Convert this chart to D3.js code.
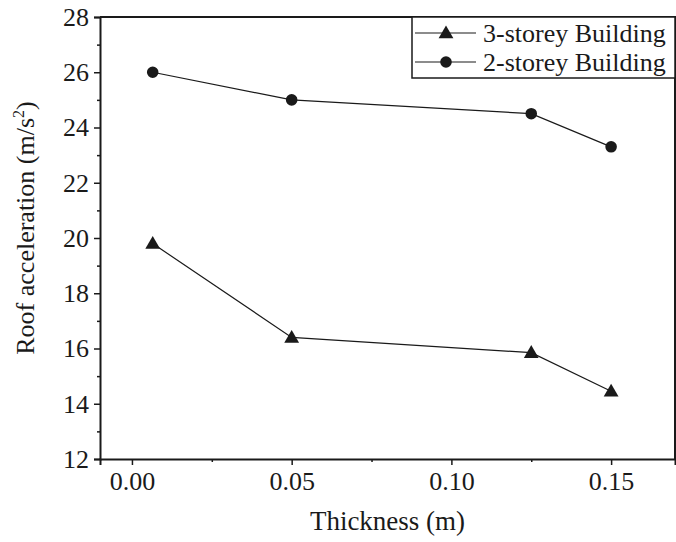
<!DOCTYPE html>
<html>
<head>
<meta charset="utf-8">
<script src="https://cdn.jsdelivr.net/npm/d3@7"></script>
<style>
	body { margin: 0; background: #fff; }
	svg text { font-family: "Liberation Serif", "Times New Roman", serif; fill: #1a1a1a; }
</style>
</head>
<body>
<svg id="chart"></svg>
<script>
// thickness values (m) and roof acceleration (m/s^2) for each building
const thickness = [0.0065, 0.05, 0.125, 0.15];
const threeStorey = [19.8, 16.4, 15.85, 14.45];
const twoStorey = [26.0, 25.0, 24.5, 23.3];
const seriesNames = ["3-storey Building", "2-storey Building"];
const xTicks = [0.0, 0.05, 0.1, 0.15];
const yTicks = [12, 14, 16, 18, 20, 22, 24, 26, 28];

const width = 676;
const height = 542;
const margin = { left: 100, right: 1, top: 17, bottom: 83 };

const svg = d3.select("#chart").attr("width", width).attr("height", height);

const x = d3
	.scaleLinear()
	.domain([-0.01, 0.17])
	.range([margin.left, width - margin.right]);
const y = d3
	.scaleLinear()
	.domain([12, 28])
	.range([height - margin.bottom, margin.top]);

const ink = "#1a1a1a";

//minor ticks sit between the labelled ones
const xMinor = [0.025, 0.075, 0.125];
const yMinor = d3.range(13, 28, 2);

svg
	.append("g")
	.attr("transform", `translate(0, ${y(12)})`)
	.call(d3.axisBottom(x).tickValues(xTicks).tickFormat(d3.format(".2f")).tickSize(6).tickPadding(7));
svg
	.append("g")
	.attr("transform", `translate(0, ${y(12)})`)
	.call(d3.axisBottom(x).tickValues(xMinor).tickFormat("").tickSize(3))
	.select(".domain")
	.remove();

svg
	.append("g")
	.attr("transform", `translate(${x(-0.01)}, 0)`)
	.call(d3.axisLeft(y).tickValues(yTicks).tickSize(6).tickPadding(5));
svg
	.append("g")
	.attr("transform", `translate(${x(-0.01)}, 0)`)
	.call(d3.axisLeft(y).tickValues(yMinor).tickFormat("").tickSize(3))
	.select(".domain")
	.remove();

svg.selectAll(".tick text").attr("font-size", 26).attr("fill", ink).attr("font-family", "Liberation Serif");
svg.selectAll(".tick line").attr("stroke", ink).attr("stroke-width", 1.5);
svg.selectAll(".domain").attr("stroke", ink).attr("stroke-width", 2);

//top and right frame
svg
	.append("path")
	.attr("d", `M${x(-0.01)},${y(28)}H${x(0.17)}V${y(12)}`)
	.attr("fill", "none")
	.attr("stroke", ink)
	.attr("stroke-width", 2);

const line = d3
	.line()
	.x((d) => x(d[0]))
	.y((d) => y(d[1]));

const tri = d3.symbol().type(d3.symbolTriangle).size(95);
const dot = d3.symbol().type(d3.symbolCircle).size(105);

const series = [
	{ name: seriesNames[0], values: threeStorey, symbol: tri },
	{ name: seriesNames[1], values: twoStorey, symbol: dot },
];

series.forEach((s) => {
	const pts = thickness.map((t, i) => [t, s.values[i]]);
	svg
		.append("path")
		.attr("d", line(pts))
		.attr("fill", "none")
		.attr("stroke", ink)
		.attr("stroke-width", 1.2);
	svg
		.selectAll(null)
		.data(pts)
		.enter()
		.append("path")
		.attr("d", s.symbol)
		.attr("transform", (d) => `translate(${x(d[0])}, ${y(d[1]) + (s.symbol === tri ? 1 : 0)})`)
		.attr("fill", ink);
});

//legend box in the top right corner
const legend = svg.append("g").attr("transform", `translate(412, ${margin.top})`);
legend
	.append("rect")
	.attr("width", width - margin.right - 412)
	.attr("height", 61)
	.attr("fill", "#fff")
	.attr("stroke", ink)
	.attr("stroke-width", 1.5);
series.forEach((s, i) => {
	const row = legend.append("g").attr("transform", `translate(0, ${16 + i * 29})`);
	row.append("line").attr("x1", 3).attr("x2", 64).attr("stroke", ink).attr("stroke-width", 1.2);
	row.append("path").attr("d", s.symbol).attr("transform", `translate(34, ${s.symbol === tri ? 1 : 0})`).attr("fill", ink);
	row
		.append("text")
		.attr("x", 71)
		.attr("y", 9)
		.attr("font-size", 26)
		.text(s.name);
});

//axis titles
svg
	.append("text")
	.attr("x", (x(-0.01) + x(0.17)) / 2)
	.attr("y", 530)
	.attr("text-anchor", "middle")
	.attr("font-size", 27)
	.text("Thickness (m)");

const yTitle = svg
	.append("text")
	.attr("transform", `translate(34, 228) rotate(-90)`)
	.attr("text-anchor", "middle")
	.attr("font-size", 26);
yTitle.append("tspan").text("Roof acceleration (m/s");
yTitle.append("tspan").attr("font-size", 16).attr("dy", -10).text("2");
yTitle.append("tspan").attr("dy", 10).text(")");
</script>
</body>
</html>
